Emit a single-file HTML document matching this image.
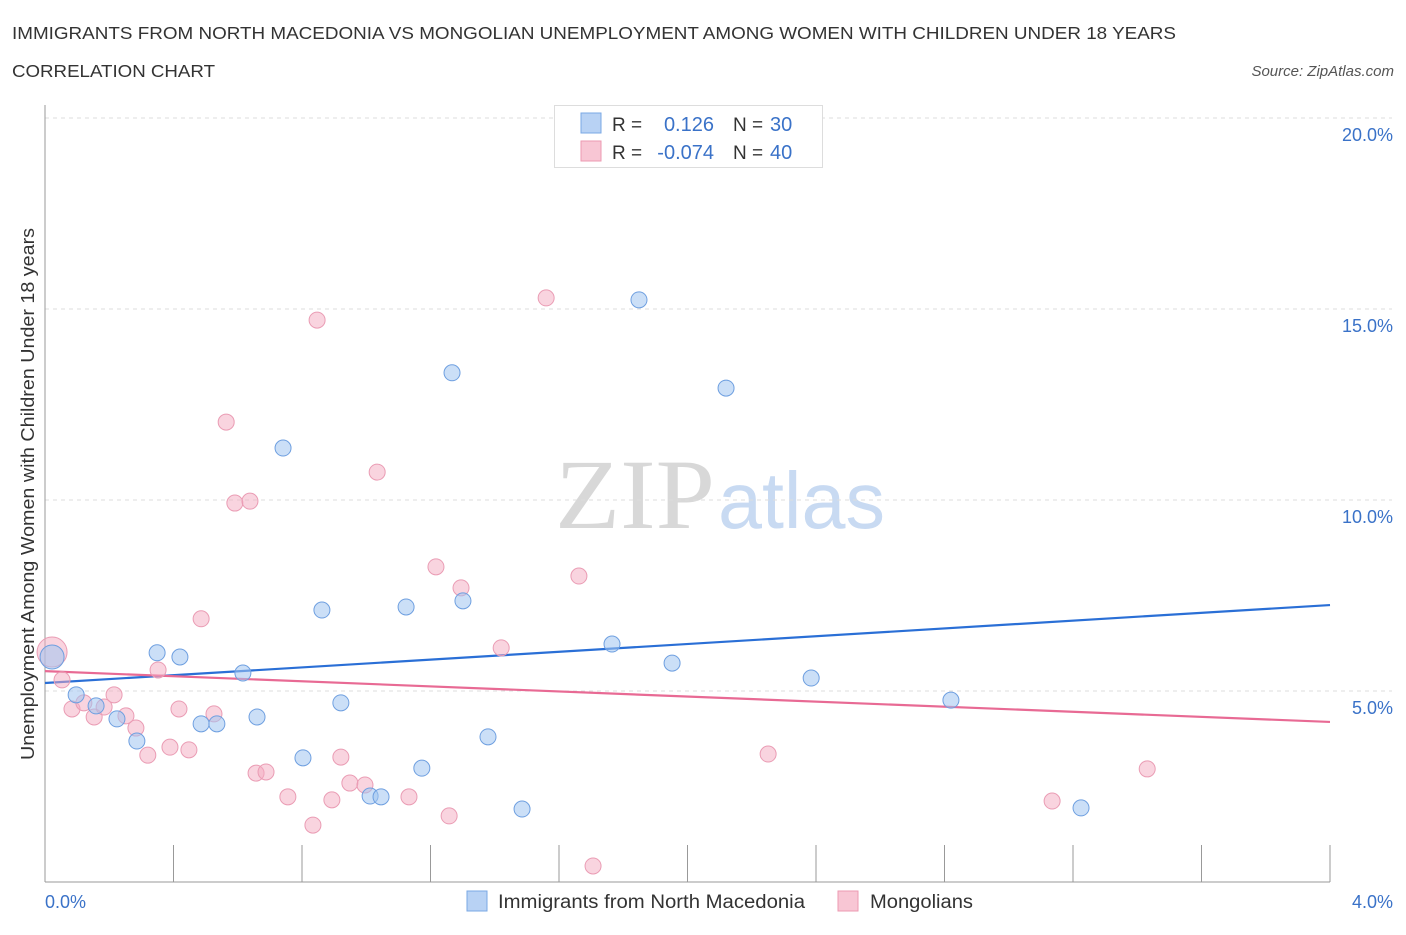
<!DOCTYPE html>
<html><head><meta charset="utf-8"><style>
body{margin:0;background:#fff;font-family:"Liberation Sans",sans-serif;}
svg text{font-family:"Liberation Sans",sans-serif;}
</style></head><body>
<svg id="chart" width="1406" height="930" viewBox="0 0 1406 930">
<text x="12" y="39" font-size="17.5" fill="#333" textLength="1164" lengthAdjust="spacingAndGlyphs">IMMIGRANTS FROM NORTH MACEDONIA VS MONGOLIAN UNEMPLOYMENT AMONG WOMEN WITH CHILDREN UNDER 18 YEARS</text>
<text x="12" y="77" font-size="17.5" fill="#333" textLength="203" lengthAdjust="spacingAndGlyphs">CORRELATION CHART</text>
<text x="1394" y="76" font-size="15" fill="#555" font-style="italic" text-anchor="end">Source: ZipAtlas.com</text>
<text x="555" y="528" font-size="100" fill="#d8d8d8" textLength="160" lengthAdjust="spacingAndGlyphs" style="font-family:'Liberation Serif',serif">ZIP</text>
<text x="718" y="528" font-size="80" fill="#c8daf2" textLength="167" lengthAdjust="spacingAndGlyphs">atlas</text>
<g id="grid"></g>
<g id="axes"></g>
<g id="lines"></g>
<g id="points"></g>
<text x="34" y="494" font-size="18" fill="#333" text-anchor="middle" textLength="532" lengthAdjust="spacingAndGlyphs" transform="rotate(-90 34 494)">Unemployment Among Women with Children Under 18 years</text>
<text x="45" y="908" font-size="18" fill="#3a72c8">0.0%</text>
<text x="1393" y="908" font-size="18" fill="#3a72c8" text-anchor="end">4.0%</text>
<g>
<rect x="554.5" y="105.5" width="268" height="62" fill="#fff" stroke="#ddd"/>
<rect x="581" y="113" width="20" height="20" fill="#b8d2f4" stroke="#7aa8e4"/>
<rect x="581" y="141" width="20" height="20" fill="#f8c6d4" stroke="#ec9ab2"/>
<text x="612" y="131" font-size="19" fill="#333">R =</text>
<text x="714" y="131" font-size="20" fill="#3a72c8" text-anchor="end">0.126</text>
<text x="733" y="131" font-size="19" fill="#333">N =</text>
<text x="770" y="131" font-size="20" fill="#3a72c8">30</text>
<text x="612" y="159" font-size="19" fill="#333">R =</text>
<text x="714" y="159" font-size="20" fill="#3a72c8" text-anchor="end">-0.074</text>
<text x="733" y="159" font-size="19" fill="#333">N =</text>
<text x="770" y="159" font-size="20" fill="#3a72c8">40</text>
</g>
<g>
<rect x="467" y="891" width="20" height="20" fill="#b8d2f4" stroke="#7aa8e4"/>
<text x="498" y="908" font-size="19" fill="#333" textLength="307" lengthAdjust="spacingAndGlyphs">Immigrants from North Macedonia</text>
<rect x="838" y="891" width="20" height="20" fill="#f8c6d4" stroke="#ec9ab2"/>
<text x="870" y="908" font-size="19" fill="#333" textLength="103" lengthAdjust="spacingAndGlyphs">Mongolians</text>
</g>
</svg>
<script>
const yTicks=[5,10,15,20];
const yTickLabels=["5.0%","10.0%","15.0%","20.0%"];
const xTicks=[0.4,0.8,1.2,1.6,2.0,2.4,2.8,3.2,3.6,4.0];
const blueX=[0.022,0.097,0.159,0.224,0.286,0.349,0.420,0.486,0.535,0.616,0.660,0.741,0.803,0.862,0.921,1.012,1.046,1.124,1.173,1.267,1.301,1.379,1.485,1.765,1.849,1.952,2.120,2.385,2.820,3.225];
const blueY=[5.89,4.90,4.61,4.27,3.69,6.00,5.89,4.14,4.14,5.47,4.32,11.36,3.25,7.12,4.69,2.25,2.23,7.20,2.98,13.33,7.36,3.80,1.91,6.23,15.24,5.73,12.93,5.34,4.76,1.94];
const pinkX=[0.022,0.053,0.084,0.121,0.153,0.184,0.215,0.252,0.283,0.320,0.352,0.389,0.417,0.448,0.486,0.526,0.564,0.591,0.638,0.657,0.688,0.756,0.834,0.847,0.893,0.921,0.949,0.996,1.034,1.133,1.217,1.258,1.295,1.420,1.560,1.662,1.706,2.251,3.135,3.431];
const pinkY=[6.02,5.29,4.53,4.69,4.32,4.58,4.90,4.35,4.03,3.32,5.55,3.53,4.53,3.46,6.89,4.40,12.04,9.92,9.97,2.85,2.88,2.23,1.49,14.71,2.15,3.27,2.59,2.54,10.73,2.23,8.25,1.73,7.70,6.13,15.29,8.01,0.42,3.35,2.12,2.96];
const blueTrend=[5.21,7.25];
const pinkTrend=[5.52,4.19];
const NS="http://www.w3.org/2000/svg";
const sx=v=>45+v/4*1285;
const sy=v=>882-v/5*191;
function mk(tag,attrs,parent){const e=document.createElementNS(NS,tag);for(const k in attrs)e.setAttribute(k,attrs[k]);document.getElementById(parent).appendChild(e);return e;}
yTicks.forEach((t,i)=>{
 const l=mk('line',{x1:45,x2:1392,y1:sy(t),y2:sy(t),stroke:'#ddd','stroke-dasharray':'4,4'},'grid');
 
 
 const tx=mk('text',{x:1393,y:sy(t)+23,'font-size':18,fill:'#3a72c8','text-anchor':'end'},'grid');
 tx.textContent=yTickLabels[i];
 
 
});
let a=mk('line',{x1:45,x2:45,y1:105,y2:882,stroke:'#999'},'axes');


a=mk('line',{x1:45,x2:1330,y1:882,y2:882,stroke:'#999'},'axes');


xTicks.forEach(t=>{
 const l=mk('line',{x1:sx(t),x2:sx(t),y1:845,y2:882,stroke:'#999'},'axes');
 
 
});
let tl=mk('line',{x1:sx(0),x2:sx(4),y1:sy(blueTrend[0]),y2:sy(blueTrend[1]),stroke:'#2a6fd6','stroke-width':2.2},'lines');


tl=mk('line',{x1:sx(0),x2:sx(4),y1:sy(pinkTrend[0]),y2:sy(pinkTrend[1]),stroke:'#e86a94','stroke-width':2.2},'lines');


pinkX.forEach((x,i)=>{
 const c=mk('circle',{cx:sx(x),cy:sy(pinkY[i]),r:i==0?15:8,fill:'rgba(244,170,192,0.5)',stroke:'#ea9cb4','stroke-width':1},'points');
 
 
});
blueX.forEach((x,i)=>{
 const c=mk('circle',{cx:sx(x),cy:sy(blueY[i]),r:i==0?12:8,fill:'rgba(160,196,240,0.55)',stroke:'#6e9fe0','stroke-width':1},'points');
 
 
});
</script>
</body></html>
